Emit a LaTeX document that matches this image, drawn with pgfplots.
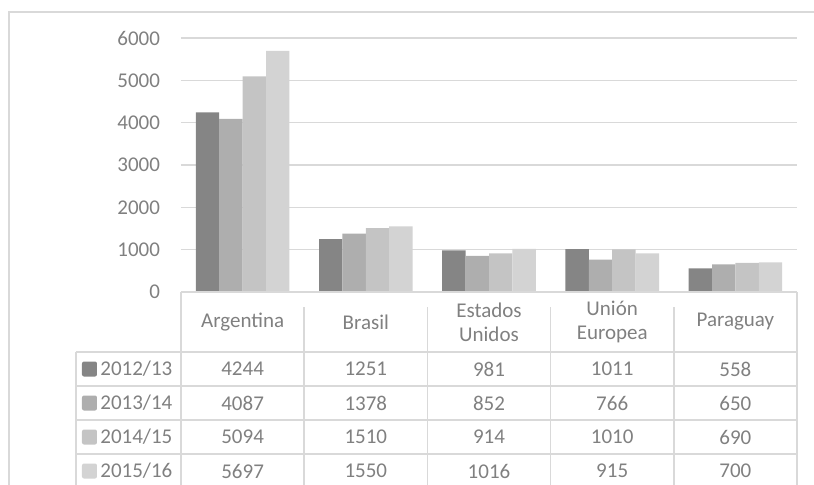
\documentclass[border=0pt]{standalone}
\usepackage{fontspec}
\setmainfont{Carlito}
\usepackage{pgfplots}
\pgfplotsset{compat=1.18}
\definecolor{txt}{HTML}{808080}
\definecolor{gridc}{HTML}{D9D9D9}
\definecolor{s1}{HTML}{858585}
\definecolor{s2}{HTML}{AEAEAE}
\definecolor{s3}{HTML}{C4C4C4}
\definecolor{s4}{HTML}{D3D3D3}

\begin{document}
\begin{tikzpicture}[font=\fontsize{10.5}{12}\selectfont]
\useasboundingbox (-90.5pt,-96pt) rectangle (316.5pt,146pt);
\begin{scope}
  \clip (-90.5pt,-96pt) rectangle (316.5pt,146pt);
  \draw[gridc, line width=0.8pt] (-86pt,140pt) rectangle (330pt,-110pt);
\end{scope}
\begin{axis}[
  scale only axis, width=308pt, height=127pt,
  xmin=0, xmax=5, ymin=0, ymax=6000,
  ytick={0,1000,...,6000},
  xtick=\empty,
  ymajorgrids, major grid style={gridc, line width=0.8pt},
  axis line style={draw=none},
  tick style={draw=none},
  yticklabel style={text=txt, xshift=-7pt},
  /pgf/number format/assume math mode=true,
  /pgf/number format/1000 sep={},
  ybar=0pt, bar width=11.7pt,
  clip=false,
]
\addplot[fill=s1, draw=none, bar shift=-17.55pt] coordinates {(0.5,4244) (1.5,1251) (2.5,981) (3.5,1011) (4.5,558)};
\addplot[fill=s2, draw=none, bar shift=-5.85pt] coordinates {(0.5,4087) (1.5,1378) (2.5,852) (3.5,766) (4.5,650)};
\addplot[fill=s3, draw=none, bar shift=5.85pt] coordinates {(0.5,5094) (1.5,1510) (2.5,914) (3.5,1010) (4.5,690)};
\addplot[fill=s4, draw=none, bar shift=17.55pt] coordinates {(0.5,5697) (1.5,1550) (2.5,1016) (3.5,915) (4.5,700)};
\end{axis}

% data table under the axis
\begin{scope}[gridc, line width=0.8pt]
  \draw (0,0) -- (308pt,0);
  \draw (0,0) -- (0,-100pt);
  \draw (308pt,0) -- (308pt,-100pt);
  \foreach \i in {1,...,4} \draw (61.6pt*\i,-7.5pt) -- (61.6pt*\i,-100pt);
  \draw (-52.5pt,-30pt) -- (-52.5pt,-100pt);
  \foreach \y in {30,47,64,81} \draw (-52.5pt,-\y pt) -- (308pt,-\y pt);
\end{scope}

\begin{scope}[text=txt]
  \node[align=center] at (30.8pt,-15pt) {Argentina};
  \node[align=center] at (92.4pt,-15pt) {Brasil};
  \node[align=center] at (154pt,-15pt) {Estados\\Unidos};
  \node[align=center] at (215.6pt,-15pt) {Unión\\Europea};
  \node[align=center] at (277.2pt,-15pt) {Paraguay};

  \foreach \c/\lab [count=\r from 0] in {s1/2012\slash13, s2/2013\slash14, s3/2014\slash15, s4/2015\slash16} {
    \fill[\c, rounded corners=1pt] (-49.5pt,-38.5pt-17pt*\r-3.75pt) rectangle ++(7.5pt,7.5pt);
    \node[anchor=west, inner sep=0pt] at (-40.5pt,-38.5pt-17pt*\r) {\lab};
  }

  \foreach \a/\b/\c/\d/\e [count=\r from 0] in {
    4244/1251/981/1011/558,
    4087/1378/852/766/650,
    5094/1510/914/1010/690,
    5697/1550/1016/915/700} {
    \node at (30.8pt,-38.5pt-17pt*\r) {\a};
    \node at (92.4pt,-38.5pt-17pt*\r) {\b};
    \node at (154pt,-38.5pt-17pt*\r) {\c};
    \node at (215.6pt,-38.5pt-17pt*\r) {\d};
    \node at (277.2pt,-38.5pt-17pt*\r) {\e};
  }
\end{scope}
\end{tikzpicture}
\end{document}
